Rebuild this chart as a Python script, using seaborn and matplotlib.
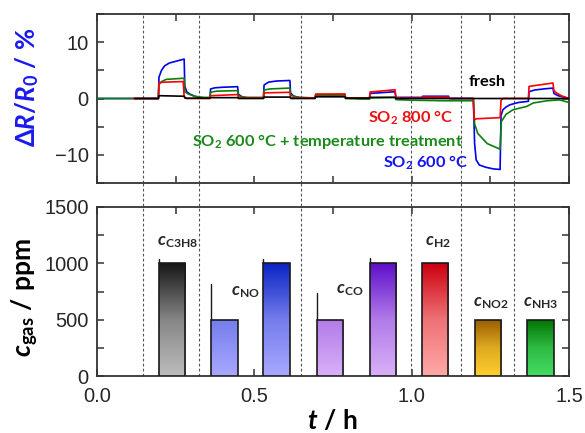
import numpy as np
import pandas as pd
import seaborn as sns
import matplotlib
matplotlib.use("Agg")
import matplotlib.pyplot as plt
from matplotlib.colors import LinearSegmentedColormap, to_rgb
from matplotlib.ticker import MultipleLocator

# ---------------- data ----------------
t_blue = [0, 0.195, 0.197, 0.205, 0.215, 0.23, 0.25, 0.277, 0.279, 0.285, 0.295, 0.31, 0.33,
          0.359, 0.361, 0.375, 0.40, 0.447, 0.449, 0.46, 0.48,
          0.529, 0.531, 0.545, 0.57, 0.613, 0.615, 0.625, 0.645,
          0.693, 0.695, 0.788, 0.79, 0.866, 0.868, 0.947, 0.95,
          1.033, 1.035, 1.117, 1.12, 1.196, 1.20, 1.205, 1.215, 1.235, 1.26, 1.281,
          1.284, 1.29, 1.30, 1.313, 1.34, 1.371, 1.373, 1.39, 1.42, 1.449, 1.452, 1.465, 1.48, 1.5]
v_blue = [0, 0, 3.8, 5.0, 5.8, 6.3, 6.6, 7.0, 2.2, 1.2, 0.8, 0.4, 0.1,
          0.05, 1.7, 1.9, 2.0, 2.1, 0.8, 0.3, 0.1,
          0.1, 2.4, 2.9, 3.1, 3.2, 1.0, 0.4, 0.15,
          0.1, 0.6, 0.7, 0.1, 0.1, 0.9, 1.2, 0.2,
          0.2, 0.4, 0.4, 0.0, 0.0, -8.0, -10.9, -11.8, -12.2, -12.5, -12.6,
          -3.0, -2.0, -1.5, -1.1, -0.7, -0.5, 1.2, 1.5, 1.7, 1.85, 0.9, 0.5, 0.3, 0.0]

t_green = [0, 0.195, 0.197, 0.205, 0.22, 0.25, 0.277, 0.279, 0.29, 0.31, 0.34,
           0.359, 0.361, 0.38, 0.447, 0.449, 0.47, 0.529, 0.531, 0.55, 0.613, 0.615, 0.64,
           0.693, 0.695, 0.788, 0.79, 0.84, 0.866, 0.868, 0.947, 0.95, 1.0, 1.1, 1.196,
           1.20, 1.21, 1.24, 1.281, 1.285, 1.30, 1.322, 1.366, 1.386, 1.43, 1.47, 1.5]
v_green = [0, 0, 2.5, 3.0, 3.4, 3.5, 3.6, 1.2, 0.8, 0.4, 0.2,
           0.2, 1.1, 1.3, 1.4, 0.5, 0.2, 0.2, 1.5, 1.7, 1.85, 0.6, 0.2,
           0.1, 0.5, 0.6, 0.0, -0.1, -0.1, 0.1, 0.2, -0.2, -0.3, -0.4, -0.4,
           -4.5, -6.2, -8.0, -9.0, -4.1, -2.8, -2.0, -1.4, -0.8, -0.4, -0.25, -0.7]

t_red = [0.115, 0.195, 0.197, 0.21, 0.274, 0.277, 0.285, 0.359, 0.361, 0.447, 0.45,
         0.529, 0.531, 0.613, 0.616, 0.693, 0.695, 0.788, 0.79, 0.866, 0.868, 0.947, 0.95,
         1.033, 1.035, 1.117, 1.12, 1.196, 1.199, 1.205, 1.281, 1.284, 1.29,
         1.371, 1.373, 1.449, 1.452, 1.46, 1.475, 1.5]
v_red = [0, 0, 2.8, 2.9, 3.0, 0.3, 0.0, 0.0, 0.5, 0.7, 0.1,
         0.1, 1.0, 1.1, 0.1, 0.1, 0.8, 0.8, 0.1, 0.1, 1.15, 1.55, 0.1,
         0.1, 0.25, 0.25, 0.0, 0.0, -3.8, -3.6, -3.4, -0.3, 0.0,
         0.0, 2.15, 2.75, 1.4, 1.0, 0.5, 0.0]

t_black = [0.12, 0.195, 0.197, 0.277, 0.28, 0.359, 0.361, 0.447, 0.45, 0.529, 0.531,
           0.613, 0.616, 0.693, 0.695, 0.788, 0.79, 0.866, 0.868, 0.947, 0.95, 1.5]
v_black = [0, 0, 0.5, 0.4, 0.05, 0.05, 0.15, 0.15, 0.0, 0.0, 0.25,
           0.25, 0.0, 0.0, 0.3, 0.3, 0.05, 0.05, 0.2, 0.2, 0.0, 0.0]

event_times = [0.147, 0.325, 0.647, 0.997, 1.158, 1.325]

bar_start = [0.196, 0.362, 0.529, 0.698, 0.866, 1.033, 1.201, 1.367]
bar_end = [0.281, 0.447, 0.613, 0.781, 0.950, 1.117, 1.284, 1.451]
bar_conc = [1000, 500, 1000, 500, 1000, 1000, 500, 500]
bar_gas = ["C3H8", "NO", "NO", "CO", "CO", "H2", "NO2", "NH3"]
bar_spike = [1040, 820, 1040, 740, 1045, 1000, 500, 500]

gas_names = ["C3H8", "NO", "CO", "H2", "NO2", "NH3"]
gas_fullscale = [1000, 1000, 1000, 1000, 500, 500]

# ---------------- styles ----------------
gas_colors = {  # (bottom, top)
    "C3H8": ("#bdbdbd", "#161616"),
    "NO": ("#a8a8ff", "#0a24c4"),
    "CO": ("#d9b0f8", "#5e10c8"),
    "H2": ("#ffaaa8", "#cc0010"),
    "NO2": ("#ffcf30", "#985c00"),
    "NH3": ("#44dc64", "#007400"),
}
label_pos = {"C3H8": (0.192, 1192), "NO": (0.427, 748), "CO": (0.761, 763),
             "H2": (1.041, 1192), "NO2": (1.194, 645), "NH3": (1.354, 645)}


def mix(c1, c2, f):
    a, b = np.array(to_rgb(c1)), np.array(to_rgb(c2))
    return tuple(a + (b - a) * f)


sns.set_style("ticks")
plt.rcParams["font.family"] = ["Liberation Sans", "DejaVu Sans"]
plt.rcParams["mathtext.fontset"] = "custom"
plt.rcParams["mathtext.rm"] = "Lato"
plt.rcParams["mathtext.bf"] = "Lato:bold"
plt.rcParams["mathtext.it"] = "Lato:italic"
plt.rcParams["mathtext.bfit"] = "Lato:bold:italic"

W, H = 585, 433
fig = plt.figure(figsize=(W / 100, H / 100), dpi=100)
L, R = 97, 569
ax1 = fig.add_axes([L / W, 1 - 183 / H, (R - L) / W, 169 / H])
ax2 = fig.add_axes([L / W, 1 - 376 / H, (R - L) / W, 169 / H])

# ---- top panel lines ----
series = [(t_blue, v_blue, "#0000ee"), (t_green, v_green, "#0a800a"),
          (t_red, v_red, "#ff0000"), (t_black, v_black, "#000000")]
for tt, vv, c in series:
    df = pd.DataFrame({"t": tt, "v": vv})
    sns.lineplot(data=df, x="t", y="v", ax=ax1, color=c, lw=1.2,
                 estimator=None, sort=False, zorder=3)

ax1.set_xlim(0, 1.5)
ax1.set_ylim(-15, 15)
ax1.yaxis.set_major_locator(MultipleLocator(10))
ax1.yaxis.set_minor_locator(MultipleLocator(5))
ax1.xaxis.set_major_locator(MultipleLocator(0.5))
ax1.xaxis.set_minor_locator(MultipleLocator(0.25))

txt_kw = dict(fontsize=11.8, fontweight="bold", family="Lato")
ax1.text(1.24, 3.0, "fresh", color="black", ha="center", va="center", **txt_kw)
ax1.text(1.131, -3.45, r"SO$_\mathbf{2}$ 800 °C", color="#ee1111", ha="right", va="center", **txt_kw)
ax1.text(1.163, -7.7, r"SO$_\mathbf{2}$ 600 °C + temperature treatment", color="#1a8a1a",
         ha="right", va="center", **txt_kw)
ax1.text(1.179, -11.5, r"SO$_\mathbf{2}$ 600 °C", color="#1515ee", ha="right", va="center", **txt_kw)

# ---- bottom panel bars ----
full = dict(zip(gas_names, gas_fullscale))
for x0, x1, h, g, sp in zip(bar_start, bar_end, bar_conc, bar_gas, bar_spike):
    rect = ax2.bar(x0, h, width=x1 - x0, align="edge", color="none",
                   edgecolor="#1a1a1a", lw=1.2, zorder=4)[0]
    bot, top = gas_colors[g]
    cmap = LinearSegmentedColormap.from_list(
        g, [(0.0, bot), (0.5, mix(bot, top, 0.33)), (1.0, top)])
    grad = np.linspace(0, h / full[g], 256)[:, None]
    img = ax2.imshow(grad, cmap=cmap, vmin=0, vmax=1, origin="lower",
                     extent=[x0, x1, 0, h], aspect="auto", zorder=3,
                     interpolation="bilinear")
    img.set_clip_path(rect)
    if sp > h:
        ax2.plot([x0, x0], [h, sp], color="#1a1a1a", lw=1.0, zorder=4)

for g in gas_names:
    x, y = label_pos[g]
    ax2.text(x, y, r"$\mathbfit{c}_{\mathbf{%s}}$" % g, fontsize=12.5, ha="left", va="center")

ax2.set_xlim(0, 1.5)
ax2.set_ylim(0, 1500)
ax2.yaxis.set_major_locator(MultipleLocator(500))
ax2.yaxis.set_minor_locator(MultipleLocator(250))
ax2.xaxis.set_major_locator(MultipleLocator(0.5))
ax2.xaxis.set_minor_locator(MultipleLocator(0.25))
ax2.xaxis.set_major_formatter(matplotlib.ticker.FormatStrFormatter("%.1f"))

# event lines spanning both panels
gap = (207 - 183) / 169
for te in event_times:
    ax1.axvline(te, color="#555555", lw=0.8, ls=(0, (2.5, 2)), zorder=1)
    ax2.axvline(te, ymin=0, ymax=1 + gap, color="#555555", lw=0.8, ls=(0, (2.5, 2)),
                zorder=1, clip_on=False)

for ax in (ax1, ax2):
    for s in ax.spines.values():
        s.set_visible(True)
        s.set_color("#333333")
        s.set_linewidth(1.3)
    ax.tick_params(which="both", direction="in", top=True, right=True,
                   color="#333333", width=1.1, labelsize=14.5)
    ax.tick_params(axis="y", pad=6)
    ax.tick_params(axis="x", pad=8)
    ax.tick_params(which="major", length=5)
    ax.tick_params(which="minor", length=5)
    ax.set_xlabel("")
    ax.set_ylabel("")
ax1.tick_params(axis="x", labelbottom=False)

# axis labels
fig.text(27.5 / W, 1 - 87 / H, r"$\mathbf{\Delta}\mathbfit{R}\mathbf{/}\mathbfit{R}_{\mathbf{0}}\mathbf{\ /\ \%}$",
         rotation=90, ha="center", va="center", fontsize=18.5, color="#1a1aee")
fig.text(25 / W, 1 - 298 / H, r"$\mathbfit{c}_{\mathbf{gas}}\mathbf{\ /\ ppm}$",
         rotation=90, ha="center", va="center", fontsize=19, color="black")
fig.text(333 / W, 1 - 422 / H, r"$\mathbfit{t}\mathbf{\ /\ h}$",
         ha="center", va="center", fontsize=19, color="black")

fig.savefig("out.png", dpi=100)
